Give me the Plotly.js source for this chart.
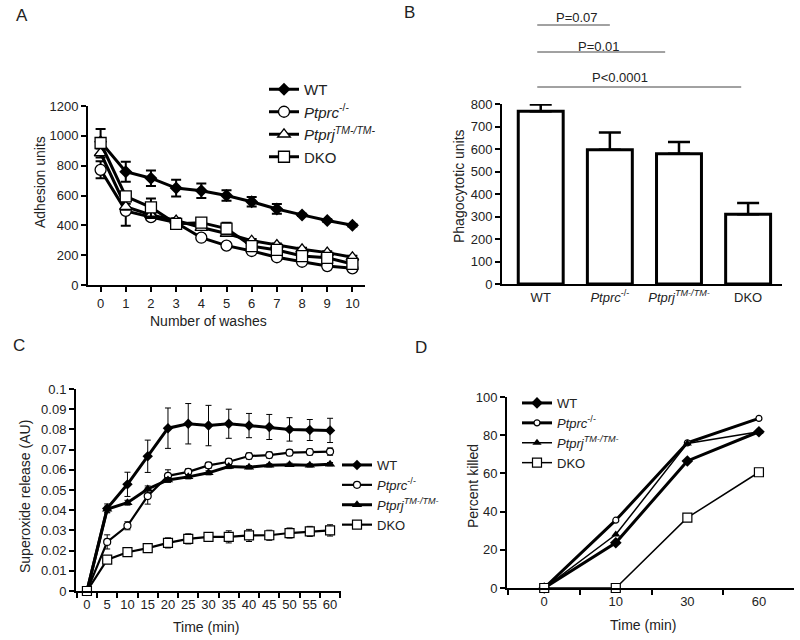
<!DOCTYPE html>
<html>
<head>
<meta charset="utf-8">
<script src="https://cdn.plot.ly/plotly-3.0.1.min.js"></script>
<style>html,body{margin:0;padding:0;background:#fff;}#chart{width:800px;height:640px;}</style>
</head>
<body>
<div id="chart"></div>
<script>
// ---------- Data ----------
const seriesNames = ['WT', '<i>Ptprc</i><sup>-/-</sup>', '<i>Ptprj</i><sup><i>TM-/TM-</i></sup>', 'DKO'];

// Panel A: adhesion
const washes = [0, 1, 2, 3, 4, 5, 6, 7, 8, 9, 10];
const adhWT = [960, 760, 716, 650, 632, 600, 558, 510, 470, 432, 400];
const adhWTerr = [86, 67, 52, 56, 48, 36, 32, 33, 8, 8, 8];
const adhPtprc = [772, 497, 455, 418, 317, 264, 228, 186, 156, 127, 112];
const adhPtprcErr = [57, 100, 20, 15, 12, 10, 10, 10, 10, 10, 10];
const adhPtprj = [885, 525, 470, 432, 385, 345, 297, 268, 239, 217, 186];
const adhPtprjErr = [30, 20, 20, 15, 15, 12, 12, 10, 10, 10, 10];
const adhDKO = [952, 594, 520, 410, 418, 378, 261, 235, 194, 182, 141];
const adhDKOerr = [25, 20, 60, 30, 25, 40, 20, 15, 15, 25, 20];

// Panel B: phagocytosis
const groups = ['WT', '<i>Ptprc</i><sup>-/-</sup>', '<i>Ptprj</i><sup><i>TM-/TM-</i></sup>', 'DKO'];
const phago = [768, 597, 579, 310];
const phagoErr = [30, 76, 52, 50];
const pLabels = ['P=0.07', 'P=0.01', 'P<0.0001'];
const pEnds = [1, 1.8, 2.9];

// Panel C: superoxide release
const times = [0, 5, 10, 15, 20, 25, 30, 35, 40, 45, 50, 55, 60];
const soWT = [0, 0.0409, 0.0528, 0.0667, 0.0806, 0.0828, 0.0819, 0.0828, 0.0819, 0.0812, 0.0800, 0.0797, 0.0795];
const soWTerr = [0, 0.0022, 0.0060, 0.0080, 0.0100, 0.0100, 0.0100, 0.0072, 0.0060, 0.0062, 0.0058, 0.0052, 0.0060];
const soPtprc = [0, 0.0243, 0.0323, 0.0470, 0.0570, 0.0590, 0.0622, 0.0640, 0.0668, 0.0673, 0.0685, 0.0688, 0.0690];
const soPtprcErr = [0, 0.0035, 0.0020, 0.0040, 0.0030, 0.0015, 0.0015, 0.0015, 0.0015, 0.0015, 0.0015, 0.0015, 0.0018];
const soPtprj = [0, 0.0405, 0.0437, 0.0505, 0.0550, 0.0565, 0.0585, 0.0616, 0.0613, 0.0622, 0.0625, 0.0622, 0.0628];
const soPtprjErr = [0, 0.0015, 0.0012, 0.0015, 0.0012, 0.0010, 0.0010, 0.0010, 0.0008, 0.0008, 0.0008, 0.0008, 0.0008];
const soDKO = [0, 0.0155, 0.0192, 0.0212, 0.0238, 0.0258, 0.0268, 0.0268, 0.0275, 0.0276, 0.0287, 0.0295, 0.0300];
const soDKOerr = [0, 0.0015, 0.0018, 0.0012, 0.0025, 0.0025, 0.0020, 0.0030, 0.0030, 0.0025, 0.0025, 0.0025, 0.0028];

// Panel D: bacterial killing
const killTimes = ['0', '10', '30', '60'];
const killWT = [0, 23.7, 66.5, 81.8];
const killPtprc = [0, 35.5, 76, 88.8];
const killPtprj = [0, 28, 75.7, 81.8];
const killDKO = [0, 0, 36.8, 60.6];

// ---------- Styling ----------
const FONT = 'Liberation Sans, Arial, sans-serif';
const TXT = '#222';
const symA = ['diamond', 'circle', 'triangle-up', 'square'];
const colA = ['#000', '#fff', '#fff', '#fff'];

const traces = [];

// Panel A traces
[[adhWT, adhWTerr], [adhPtprc, adhPtprcErr], [adhPtprj, adhPtprjErr], [adhDKO, adhDKOerr]].forEach((d, i) => {
  traces.push({
    type: 'scatter', mode: 'lines+markers', x: washes, y: d[0], name: seriesNames[i],
    xaxis: 'x', yaxis: 'y', legend: 'legend', cliponaxis: false,
    line: {color: '#000', width: 3},
    marker: {symbol: symA[i], size: i === 0 ? 10 : 11, color: colA[i], line: {color: '#000', width: i === 0 ? 0 : 1.3}},
    error_y: {type: 'data', array: d[1], visible: true, color: '#000', thickness: 2, width: 5}
  });
});

// Panel B bars
traces.push({
  type: 'bar', x: groups, y: phago, xaxis: 'x2', yaxis: 'y2', showlegend: false,
  width: 0.65, marker: {color: '#fff', line: {color: '#000', width: 3}},
  error_y: {type: 'data', symmetric: false, array: phagoErr, arrayminus: [0, 0, 0, 0], color: '#000', thickness: 2.5, width: 11}
});

// Panel C traces
const symC = ['diamond', 'circle', 'triangle-up', 'square'];
const sizeC = [8, 7, 9, 9];
const lwC = [3, 2.2, 3, 2.2];
[[soWT, soWTerr], [soPtprc, soPtprcErr], [soPtprj, soPtprjErr], [soDKO, soDKOerr]].forEach((d, i) => {
  traces.push({
    type: 'scatter', mode: 'lines+markers', x: times, y: d[0], name: seriesNames[i],
    xaxis: 'x3', yaxis: 'y3', legend: 'legend2', cliponaxis: false,
    line: {color: '#000', width: lwC[i]},
    marker: {symbol: symC[i], size: sizeC[i], color: (i === 0 || i === 2) ? '#000' : '#fff', line: {color: '#000', width: (i === 0 || i === 2) ? 0 : 1.2}},
    error_y: {type: 'data', array: d[1], visible: true, color: '#000', thickness: 1, width: 3}
  });
});

// Panel D traces
const lwD = [3, 3, 1.5, 1.5];
const sizeD = [9, 6, 8, 9];
[killWT, killPtprc, killPtprj, killDKO].forEach((d, i) => {
  traces.push({
    type: 'scatter', mode: 'lines+markers', x: killTimes, y: d, name: seriesNames[i],
    xaxis: 'x4', yaxis: 'y4', legend: 'legend3', cliponaxis: false,
    line: {color: '#000', width: lwD[i]},
    marker: {symbol: symC[i], size: sizeD[i], color: (i === 0 || i === 2) ? '#000' : '#fff', line: {color: '#000', width: (i === 0 || i === 2) ? 0 : 1.2}}
  });
});

function axisBase(extra) {
  return Object.assign({
    showline: true, linecolor: '#000', linewidth: 2, ticks: 'outside', ticklen: 5, tickwidth: 2,
    tickcolor: '#000', showgrid: false, zeroline: false, tickfont: {family: FONT, size: 13, color: TXT},
    tickangle: 0, fixedrange: true
  }, extra);
}

const annFont = {family: FONT, size: 14, color: TXT};
function ann(text, px, py, opts) {
  return Object.assign({text: text, x: px / 800, y: 1 - py / 640, xref: 'paper', yref: 'paper',
    xanchor: 'center', yanchor: 'middle', showarrow: false, font: annFont}, opts || {});
}
const panelFont = {family: FONT, size: 17, color: TXT};
const annotations = [
  ann('A', 22, 15, {font: panelFont}),
  ann('B', 409, 13, {font: panelFont}),
  ann('C', 19, 345, {font: panelFont}),
  ann('D', 421, 347, {font: panelFont}),
  ann('Number of washes', 208, 321),
  ann('Adhesion units', 40, 182, {textangle: -90}),
  ann('Phagocytotic units', 459, 186, {textangle: -90}),
  ann('Superoxide release (AU)', 25, 497, {textangle: -90}),
  ann('Time (min)', 206, 627),
  ann('Percent killed', 473, 486, {textangle: -90}),
  ann('Time (min)', 643, 625)
];
const pTextPos = [[0.53, 17], [0.85, 46], [1.15, 77]];
const pLineY = [25, 52, 87];
const shapes = [];
pLabels.forEach((t, i) => {
  annotations.push({text: t, x: pTextPos[i][0], xref: 'x2', y: 1 - pTextPos[i][1] / 640, yref: 'paper',
    xanchor: 'center', yanchor: 'middle', showarrow: false, font: {family: FONT, size: 13, color: TXT}});
  shapes.push({type: 'line', xref: 'x2', yref: 'paper', x0: -0.05, x1: pEnds[i], y0: 1 - pLineY[i] / 640, y1: 1 - pLineY[i] / 640, line: {color: '#444', width: 1}});
});

const legendBase = {bgcolor: 'rgba(0,0,0,0)', xanchor: 'left', yanchor: 'top', tracegroupgap: 0, itemclick: false};

const layout = {
  width: 800, height: 640, margin: {l: 0, r: 0, t: 0, b: 0},
  paper_bgcolor: '#fff', plot_bgcolor: 'rgba(0,0,0,0)',
  font: {family: FONT, color: TXT},
  xaxis: axisBase({domain: [88 / 800, 365 / 800], range: [-0.5, 10.5], tickvals: washes, anchor: 'y'}),
  yaxis: axisBase({domain: [1 - 285 / 640, 1 - 106 / 640], range: [0, 1200], dtick: 200, anchor: 'x'}),
  xaxis2: axisBase({domain: [502 / 800, 782 / 800], type: 'category', range: [-0.56, 3.49], anchor: 'y2', ticks: ''}),
  yaxis2: axisBase({domain: [1 - 284 / 640, 1 - 104 / 640], range: [0, 800], dtick: 100, anchor: 'x2'}),
  xaxis3: axisBase({domain: [76 / 800, 341 / 800], type: 'category', range: [-0.54, 12.54], tickson: 'boundaries', anchor: 'y3'}),
  yaxis3: axisBase({domain: [1 - 591 / 640, 1 - 389 / 640], range: [0, 0.1], anchor: 'x3',
    tickvals: [0, 0.01, 0.02, 0.03, 0.04, 0.05, 0.06, 0.07, 0.08, 0.09, 0.1],
    ticktext: ['0', '0.01', '0.02', '0.03', '0.04', '0.05', '0.06', '0.07', '0.08', '0.09', '0.1']}),
  xaxis4: axisBase({domain: [507 / 800, 794 / 800], type: 'category', range: [-0.52, 3.49], tickson: 'boundaries', anchor: 'y4'}),
  yaxis4: axisBase({domain: [1 - 588 / 640, 1 - 397 / 640], range: [0, 100], dtick: 20, anchor: 'x4'}),
  showlegend: true,
  legend: Object.assign({x: 264 / 800, y: 1 - 73 / 640, font: {family: FONT, size: 15, color: TXT}}, legendBase),
  legend2: Object.assign({x: 337 / 800, y: 1 - 450 / 640, font: {family: FONT, size: 13, color: TXT}}, legendBase),
  legend3: Object.assign({x: 517 / 800, y: 1 - 388 / 640, font: {family: FONT, size: 13, color: TXT}}, legendBase),
  annotations: annotations,
  shapes: shapes
};

Plotly.newPlot('chart', traces, layout, {displayModeBar: false, staticPlot: true});
</script>
</body>
</html>
